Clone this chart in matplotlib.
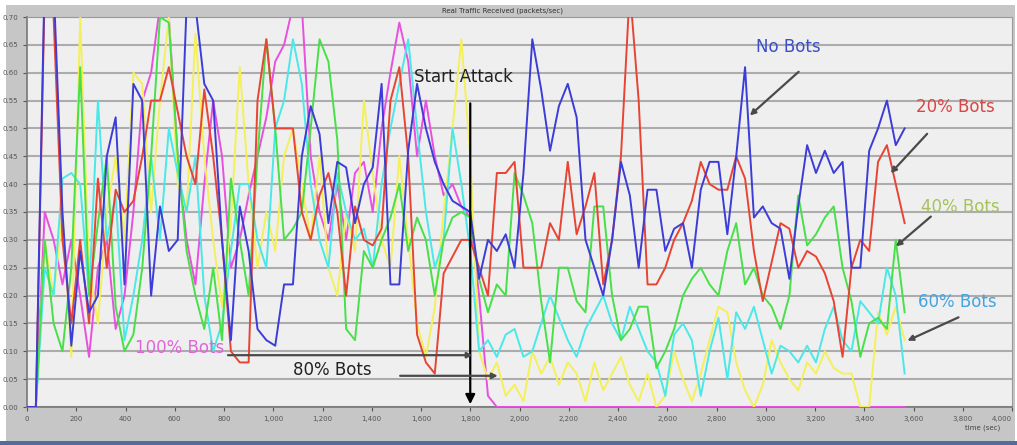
# Traffic received with different bot shares, attack starting at 1800 s

import numpy as np
import matplotlib.pyplot as plt
from matplotlib.patches import Rectangle
from matplotlib.ticker import FuncFormatter

# one sample every 36 s (100 values)
time = np.arange(100) * 36

no_bots = [0.00, 0.00, 0.78, 0.76, 0.35, 0.11, 0.28, 0.17, 0.20, 0.45,
           0.52, 0.22, 0.58, 0.55, 0.20, 0.36, 0.28, 0.30, 0.72, 0.72,
           0.58, 0.55, 0.30, 0.12, 0.36, 0.28, 0.14, 0.12, 0.11, 0.22,
           0.22, 0.45, 0.54, 0.49, 0.33, 0.44, 0.43, 0.33, 0.40, 0.43,
           0.58, 0.22, 0.22, 0.46, 0.58, 0.50, 0.44, 0.40, 0.37, 0.36,
           0.35, 0.23, 0.30, 0.28, 0.31, 0.25, 0.42, 0.66, 0.57, 0.46,
           0.54, 0.58, 0.52, 0.30, 0.25, 0.20, 0.30, 0.44, 0.38, 0.25,
           0.39, 0.39, 0.28, 0.32, 0.33, 0.25, 0.39, 0.44, 0.44, 0.31,
           0.45, 0.61, 0.34, 0.36, 0.33, 0.32, 0.23, 0.36, 0.47, 0.42,
           0.46, 0.42, 0.44, 0.25, 0.25, 0.46, 0.50, 0.55, 0.47, 0.50]

bots_20 = [0.00, 0.00, 0.75, 0.70, 0.30, 0.15, 0.30, 0.15, 0.41, 0.25,
           0.39, 0.35, 0.37, 0.45, 0.55, 0.55, 0.61, 0.53, 0.45, 0.40,
           0.57, 0.45, 0.30, 0.10, 0.08, 0.08, 0.55, 0.66, 0.50, 0.50,
           0.50, 0.35, 0.30, 0.38, 0.42, 0.35, 0.20, 0.36, 0.30, 0.29,
           0.32, 0.55, 0.61, 0.45, 0.13, 0.08, 0.06, 0.24, 0.27, 0.30,
           0.30, 0.25, 0.20, 0.42, 0.42, 0.44, 0.25, 0.25, 0.25, 0.33,
           0.30, 0.44, 0.31, 0.36, 0.42, 0.22, 0.30, 0.45, 0.75, 0.55,
           0.22, 0.22, 0.25, 0.30, 0.33, 0.37, 0.44, 0.40, 0.39, 0.39,
           0.45, 0.41, 0.28, 0.19, 0.26, 0.33, 0.32, 0.25, 0.28, 0.27,
           0.24, 0.19, 0.09, 0.25, 0.30, 0.28, 0.44, 0.47, 0.40, 0.33]

bots_40 = [0.00, 0.00, 0.30, 0.15, 0.10, 0.25, 0.61, 0.20, 0.33, 0.45,
           0.18, 0.10, 0.13, 0.25, 0.45, 0.70, 0.69, 0.45, 0.28, 0.20,
           0.14, 0.25, 0.12, 0.41, 0.30, 0.20, 0.45, 0.66, 0.50, 0.30,
           0.32, 0.35, 0.50, 0.66, 0.62, 0.48, 0.14, 0.12, 0.28, 0.25,
           0.30, 0.34, 0.40, 0.28, 0.34, 0.30, 0.20, 0.30, 0.34, 0.35,
           0.34, 0.23, 0.17, 0.22, 0.20, 0.42, 0.38, 0.33, 0.19, 0.08,
           0.25, 0.25, 0.19, 0.17, 0.36, 0.36, 0.20, 0.12, 0.14, 0.18,
           0.18, 0.07, 0.10, 0.14, 0.20, 0.23, 0.25, 0.22, 0.20, 0.28,
           0.33, 0.22, 0.25, 0.20, 0.18, 0.14, 0.20, 0.38, 0.29, 0.31,
           0.34, 0.36, 0.25, 0.19, 0.09, 0.15, 0.16, 0.14, 0.30, 0.17]

bots_60 = [0.00, 0.00, 0.25, 0.20, 0.41, 0.42, 0.40, 0.20, 0.55, 0.30,
           0.38, 0.12, 0.20, 0.30, 0.45, 0.30, 0.50, 0.42, 0.35, 0.45,
           0.20, 0.10, 0.15, 0.28, 0.40, 0.40, 0.30, 0.25, 0.50, 0.55,
           0.66, 0.58, 0.40, 0.30, 0.25, 0.42, 0.35, 0.30, 0.32, 0.25,
           0.40, 0.50, 0.58, 0.66, 0.50, 0.35, 0.25, 0.30, 0.50, 0.40,
           0.28, 0.10, 0.12, 0.09, 0.13, 0.14, 0.09, 0.10, 0.15, 0.20,
           0.16, 0.12, 0.09, 0.14, 0.17, 0.20, 0.15, 0.12, 0.18, 0.14,
           0.10, 0.08, 0.02, 0.13, 0.15, 0.12, 0.02, 0.10, 0.16, 0.05,
           0.17, 0.14, 0.18, 0.12, 0.06, 0.11, 0.10, 0.08, 0.11, 0.08,
           0.14, 0.18, 0.12, 0.10, 0.19, 0.17, 0.15, 0.25, 0.20, 0.06]

bots_80 = [0.00, 0.00, 0.30, 0.20, 0.35, 0.09, 0.70, 0.25, 0.15, 0.35,
           0.45, 0.30, 0.60, 0.58, 0.35, 0.55, 0.70, 0.40, 0.35, 0.67,
           0.45, 0.30, 0.18, 0.33, 0.61, 0.40, 0.25, 0.35, 0.28, 0.45,
           0.50, 0.40, 0.30, 0.45, 0.25, 0.20, 0.35, 0.28, 0.55, 0.42,
           0.30, 0.25, 0.45, 0.30, 0.15, 0.09, 0.18, 0.35, 0.50, 0.66,
           0.45, 0.10, 0.05, 0.08, 0.02, 0.04, 0.01, 0.10, 0.06, 0.09,
           0.04, 0.08, 0.06, 0.01, 0.08, 0.03, 0.06, 0.09, 0.04, 0.01,
           0.06, 0.00, 0.02, 0.10, 0.05, 0.01, 0.06, 0.12, 0.18, 0.17,
           0.08, 0.03, 0.00, 0.04, 0.12, 0.08, 0.05, 0.03, 0.08, 0.06,
           0.10, 0.07, 0.06, 0.06, 0.00, 0.00, 0.17, 0.13, 0.18, 0.12]

bots_100 = [0.00, 0.00, 0.35, 0.30, 0.22, 0.30, 0.20, 0.09, 0.25, 0.30,
            0.14, 0.20, 0.35, 0.55, 0.60, 0.72, 0.70, 0.45, 0.30, 0.22,
            0.40, 0.55, 0.45, 0.25, 0.30, 0.38, 0.45, 0.52, 0.62, 0.65,
            0.72, 0.72, 0.45, 0.35, 0.30, 0.40, 0.30, 0.42, 0.44, 0.35,
            0.50, 0.60, 0.69, 0.62, 0.45, 0.55, 0.45, 0.38, 0.40, 0.36,
            0.34, 0.20, 0.02, 0.00, 0.00, 0.00, 0.00, 0.00, 0.00, 0.00,
            0.00, 0.00, 0.00, 0.00, 0.00, 0.00, 0.00, 0.00, 0.00, 0.00,
            0.00, 0.00, 0.00, 0.00, 0.00, 0.00, 0.00, 0.00, 0.00, 0.00,
            0.00, 0.00, 0.00, 0.00, 0.00, 0.00, 0.00, 0.00, 0.00, 0.00,
            0.00, 0.00, 0.00, 0.00, 0.00, 0.00, 0.00, 0.00, 0.00, 0.00]

attack_time = 1800
W, H = 1017, 445

fig = plt.figure(figsize=(W / 100, H / 100), dpi=100)
fig.patch.set_facecolor('white')

# window frame like the simulator screenshot
fig.add_artist(Rectangle((6 / W, 4 / H), 1009 / W, 436 / H, transform=fig.transFigure,
                         facecolor='#c6c6c6', edgecolor='none', zorder=0))
fig.add_artist(Rectangle((0, 0), 1, 4 / H, transform=fig.transFigure,
                         facecolor='#4f6f98', edgecolor='none', zorder=0))

ax = fig.add_axes([27 / W, 1 - 407 / H, 985 / W, 390 / H])
ax.set_facecolor('#efefef')

# draw order: blue ends on top
ax.plot(time, bots_100, color='#e850e0', lw=1.4, zorder=3)
ax.plot(time, bots_80, color='#f4f05a', lw=1.4, zorder=3)
ax.plot(time, bots_60, color='#4ae8e8', lw=1.4, zorder=3)
ax.plot(time, bots_40, color='#48e048', lw=1.4, zorder=3)
ax.plot(time, bots_20, color='#e84434', lw=1.4, zorder=3)
ax.plot(time, no_bots, color='#3c3cd8', lw=1.4, zorder=3)

ax.set_xlim(0, 4000)
ax.set_ylim(0, 0.70)
ax.set_xticks(np.arange(0, 4001, 200))
ax.set_yticks(np.arange(0, 0.701, 0.05))
ax.xaxis.set_major_formatter(FuncFormatter(lambda v, p: f"{int(v):,}"))
ax.yaxis.set_major_formatter(FuncFormatter(lambda v, p: f"{v:.2f}"))
ax.tick_params(labelsize=5, colors='#555555', length=3, width=0.8)
# last x label would run past the frame
ax.get_xticklabels()[-1].set_horizontalalignment('right')
ax.grid(axis='y', color='#acacac', lw=1.5, zorder=1)
for s in ['top', 'right']:
    ax.spines[s].set_color('#9a9a9a')
for s in ['left', 'bottom']:
    ax.spines[s].set_color('#777777')
    ax.spines[s].set_linewidth(1.2)

fig.text(503 / W, 1 - 11 / H, "Real Traffic Received (packets/sec)", fontsize=5,
         ha='center', va='center', color='#333333')
fig.text(1000 / W, 1 - 428 / H, "time (sec)", fontsize=5, ha='right', va='center',
         color='#444444')

# start of the attack
ax.annotate("", xy=(attack_time, 0.0), xytext=(attack_time, 0.55),
            arrowprops=dict(arrowstyle='-|>', color='black', lw=1.6, mutation_scale=14),
            zorder=6)
ax.text(1570, 0.592, "Start Attack", fontsize=12, color='#222222', va='center', zorder=6)

arrow = dict(arrowstyle='-|>', color='#4a4a4a', lw=1.6, mutation_scale=8)
ax.text(2960, 0.646, "No Bots", fontsize=12, color='#3a4fc8', va='center', zorder=6)
ax.annotate("", xy=(2927, 0.52), xytext=(3142, 0.605), arrowprops=arrow, zorder=6)

ax.text(3612, 0.538, "20% Bots", fontsize=12, color='#d84646', va='center', zorder=6)
ax.annotate("", xy=(3500, 0.416), xytext=(3663, 0.494), arrowprops=arrow, zorder=6)

ax.text(3630, 0.359, "40% Bots", fontsize=12, color='#a6c25a', va='center', zorder=6)
ax.annotate("", xy=(3520, 0.285), xytext=(3679, 0.345), arrowprops=arrow, zorder=6)

ax.text(3618, 0.188, "60% Bots", fontsize=12, color='#44a4e0', va='center', zorder=6)
ax.annotate("", xy=(3565, 0.117), xytext=(3793, 0.163), arrowprops=arrow, zorder=6)

ax.text(439, 0.106, "100% Bots", fontsize=12, color='#e066d8', va='center', zorder=6)
ax.annotate("", xy=(1821, 0.093), xytext=(805, 0.093), arrowprops=arrow, zorder=6)

ax.text(1081, 0.066, "80% Bots", fontsize=12, color='#222222', va='center', zorder=6)
ax.annotate("", xy=(1923, 0.056), xytext=(1504, 0.056), arrowprops=arrow, zorder=6)

plt.savefig("out.png", dpi=100)
